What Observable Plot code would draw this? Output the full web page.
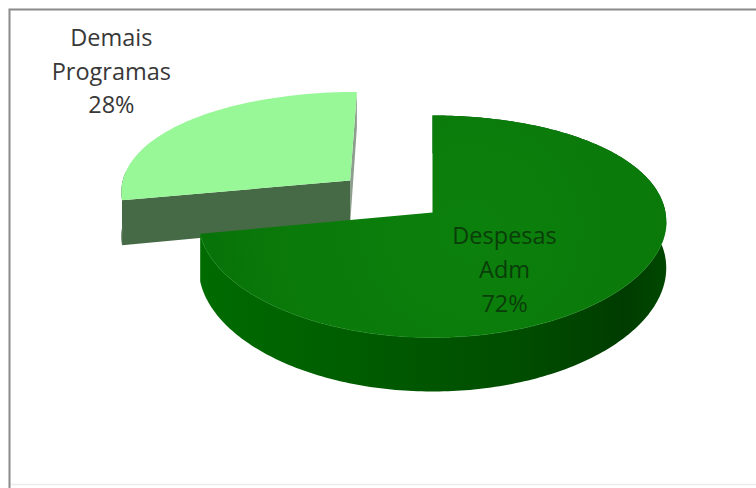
<!DOCTYPE html>
<html>
<head>
<meta charset="utf-8">
<script src="https://cdn.jsdelivr.net/npm/d3@7"></script>
<script src="https://cdn.jsdelivr.net/npm/@observablehq/plot@0.6"></script>
<style>
  html, body { margin: 0; padding: 0; background: #fff; }
  #chart svg { display: block; }
</style>
</head>
<body>
<div id="chart"></div>
<script>
// ---- data ----
const categories = ["Despesas Adm", "Demais Programas"];
const values = [72, 28];

// ---- layout / style ----
const W = 756, H = 488;
const CX = 432, CY = 212, RX = 233, A = 111, B = 14;
const explodeBy = [0, 0.47];
const topColors = ["#0b7d0b", "#98f898"];

// perspective projection of a disk point (u, v) at depth h (0 = top, 1 = bottom)
function proj(u, v, h) {
  return {x: CX + RX * u * (1 + 0.08 * v), y: CY + A * v + B * v * v + h * (46 + 8 * v)};
}

const total = d3.sum(values);
let acc = 0;
const slices = categories.map((c, i) => {
  const a0 = acc / total * 360;
  acc += values[i];
  const a1 = acc / total * 360;
  const mid = (a0 + a1) / 2 * Math.PI / 180;
  const e = explodeBy[i];
  return {category: c, value: values[i], a0, a1, ou: e * Math.sin(mid), ov: -e * Math.cos(mid), mid};
});

function pt(s, deg, r, h) {
  const t = deg * Math.PI / 180;
  return proj(s.ou + r * Math.sin(t), s.ov - r * Math.cos(t), h);
}
function arc(s, d0, d1, h) {
  const n = Math.max(2, Math.ceil(Math.abs(d1 - d0)));
  return d3.range(n + 1).map(k => pt(s, d0 + (d1 - d0) * k / n, 1, h));
}
function topFace(s) {
  return [pt(s, s.a0, 0, 0), ...arc(s, s.a0, s.a1, 0)];
}
function band(s, d0, d1) {
  return [...arc(s, d0, d1, 0), ...arc(s, d1, d0, 1)];
}
function radial(s, deg) {
  return [pt(s, deg, 0, 0), pt(s, deg, 1, 0), pt(s, deg, 1, 1), pt(s, deg, 0, 1)];
}

const main = slices[0], ex = slices[1];
const poly = (pts, fill, extra = {}) =>
  Plot.line(pts, {x: "x", y: "y", fill, stroke: "none", curve: "linear-closed", ...extra});

// label anchors at slice bisectors
const labels = slices.map((s, i) => {
  const r = i === 0 ? 0.5 : 1.0;
  const p = pt(s, s.mid * 180 / Math.PI, r, 0);
  return {...p, text: s.category.split(" ").join("\n") + "\n" + s.value + "%"};
});

const chart = Plot.plot({
  width: W,
  height: H,
  margin: 0,
  x: {domain: [0, W], range: [0, W], axis: null},
  y: {domain: [0, H], range: [0, H], axis: null},
  style: {background: "#fff"},
  marks: [
    Plot.frame({stroke: "#ececec", strokeWidth: 1.5, insetLeft: 9, insetTop: 9, insetBottom: 4, insetRight: -10}),
    Plot.frame({stroke: "#8c8c8c", strokeWidth: 2, insetLeft: 9, insetTop: 9, insetBottom: -10, insetRight: -10}),
    // exploded slice (Demais Programas)
    poly(radial(ex, ex.a1), "#8e9e8e"),
    poly(band(ex, ex.a0, Math.min(ex.a1, 275)), "#3d613d"),
    poly(radial(ex, ex.a0), "#466a46"),
    poly(topFace(ex), topColors[1]),
    // main slice (Despesas Adm)
    poly(band(main, main.a0, main.a1), "url(#sideGrad)"),
    poly(arc(main, 95, main.a1, 0), "none", {stroke: "#1f8f1f", strokeWidth: 1, curve: "linear", strokeOpacity: 0.6}),
    poly(topFace(main), "url(#topGrad)"),
    // labels
    Plot.text([labels[1]], {x: "x", y: "y", text: "text", dx: -77, dy: -52, fontSize: 23.5, lineHeight: 1.43, fill: "#383838", fontFamily: "Open Sans"}),
    Plot.text([labels[0]], {x: "x", y: "y", text: "text", dx: -20, dy: 18, fontSize: 23.5, lineHeight: 1.43, fill: "#0a3d0a", fontFamily: "Open Sans"})
  ]
});

const svg = d3.select(chart);
const defs = svg.insert("defs", ":first-child");
const g1 = defs.append("linearGradient").attr("id", "sideGrad")
  .attr("gradientUnits", "userSpaceOnUse").attr("x1", 195).attr("x2", 670).attr("y1", 0).attr("y2", 0);
[[0, "#006c00"], [0.35, "#005c00"], [0.7, "#004c00"], [0.9, "#003c00"], [1, "#004800"]]
  .forEach(([o, c]) => g1.append("stop").attr("offset", o).attr("stop-color", c));
const g2 = defs.append("radialGradient").attr("id", "topGrad")
  .attr("gradientUnits", "userSpaceOnUse").attr("cx", 470).attr("cy", 230).attr("r", 260);
[[0, "#0c800c"], [0.7, "#0a7a0a"], [1, "#087308"]]
  .forEach(([o, c]) => g2.append("stop").attr("offset", o).attr("stop-color", c));

document.getElementById("chart").appendChild(chart);
</script>
</body>
</html>
